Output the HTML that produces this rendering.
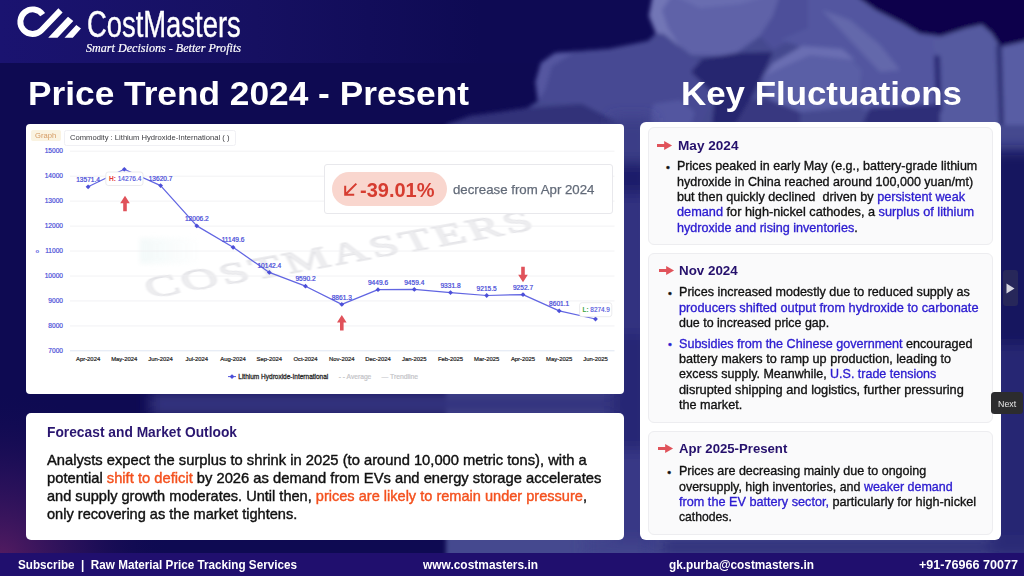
<!DOCTYPE html>
<html><head><meta charset="utf-8">
<style>
*{margin:0;padding:0;box-sizing:border-box}
html,body{width:1024px;height:576px;overflow:hidden}
body{background:#0f0a50;font-family:"Liberation Sans",sans-serif;position:relative}
.abs{position:absolute}
.t{position:absolute;white-space:nowrap;line-height:1}
#bg{position:absolute;left:0;top:0;width:1024px;height:576px}
.card{position:absolute;background:#fff}
.b{color:#2b1bd0}
.o{color:#f4511e}
.r{font-size:13.2px;color:#111;-webkit-text-stroke:0.35px currentColor}
.h{font-size:13.6px;font-weight:bold;color:#25106c}
.ft{font-size:12.8px;font-weight:bold;color:#fff;top:559.2px}
.f{font-size:14.6px;color:#111;-webkit-text-stroke:0.4px currentColor}
.ic{background:#fafafb;border:1px solid #ededf0;border-radius:6px}
</style></head><body>
<svg id="bg" viewBox="0 0 1024 576">
 <defs>
  <filter id="bl" x="-10%" y="-10%" width="120%" height="120%"><feGaussianBlur stdDeviation="2.2"/></filter>
  <filter id="bl2" x="-10%" y="-10%" width="120%" height="120%"><feGaussianBlur stdDeviation="7"/></filter>
  <linearGradient id="hb" x1="0" x2="1" y1="0" y2="0"><stop offset="0" stop-color="#1a1370"/><stop offset=".25" stop-color="#161061"/><stop offset=".47" stop-color="#0e0a53"/><stop offset="1" stop-color="#0e0a53"/></linearGradient>
  <radialGradient id="pg" cx="0" cy="560" r="170" gradientUnits="userSpaceOnUse"><stop offset="0" stop-color="#5a1d62" stop-opacity=".95"/><stop offset=".5" stop-color="#3a1560" stop-opacity=".5"/><stop offset="1" stop-color="#0f0a50" stop-opacity="0"/></radialGradient>
 </defs>
 <rect width="1024" height="576" fill="#0e0a52"/>
 <rect width="1024" height="63" fill="url(#hb)"/>
 <g filter="url(#bl)">
  <!-- general rock mass -->
  <path d="M446 125 L470 116 L500 112 L527 108 L538 101 L535.5 82 L541 63 L555 53 L609 49 L648 41 L656 33 L649 16 L653 -5 L855 -5 L876 10 L902 23 L920 33.5 L940 36 L966 28 L982 24.5 L992 33.5 L1000 46 L1030 40 L1030 576 L446 576Z" fill="#45488f"/>
  <!-- low left strip -->
  <path d="M446 125 L470 116 L500 112 L527 108 L582 104 L623 120 L623 125Z" fill="#303179"/>
  <!-- rock C -->
  <path d="M538 101 L535.5 82 L541 63 L555 53 L609 49 L648 41 L664 36 L691 57 L702 62 L691 73 L715 95 L700 125 L623 125 L582 104Z" fill="#474a93"/>
  <path d="M538 101 L535.5 82 L541 63 L555 53 L575 52 L552 66 L545 90Z" fill="#5457a0"/>
  <path d="M653 104 L680 100 L695 112 L691 125 L650 125Z" fill="#5356a0"/>
  <!-- rock A -->
  <path d="M653 -5 L649 16 L656 33 L664 34 L691 55 L732 56 L760 36 L773 16 L780 -5Z" fill="#5e62a8"/>
  <path d="M653 -5 L649 16 L656 33 L664 34 L680 47 L668 28 L662 10 L672 -5Z" fill="#7276b6"/>
  <path d="M672 -5 L700 8 L740 4 L770 -5Z" fill="#696db0"/>
  <!-- between A and B -->
  <path d="M773 16 L780 -5 L812 -5 L808 30 L773 50 L760 36Z" fill="#4d509a"/>
  <!-- rock B -->
  <path d="M808 -5 L855 -5 L876 10 L902 23 L920 33.5 L940 36 L936 60 L940 110 L862 110 L862 70 L842 50 L802 47 L780 40 L808 28Z" fill="#5356a0"/>
  <path d="M822 10 L850 20 L880 45 L900 70 L880 72 L850 40Z" fill="#6367ab"/>
  <!-- right rocks -->
  <path d="M932 40 L966 28 L982 24.5 L992 33.5 L1000 46 L1002 125 L940 125 L940 80Z" fill="#555aa0"/>
  <path d="M934 55 L940 56 L942 112 L936 112Z" fill="#2b2b76"/>
  <path d="M1001 48 L1030 40 L1030 125 L1003 125Z" fill="#595da4"/>
  <path d="M996 44 L1002 47 L1004 125 L999 125Z" fill="#2f3076"/>
  <!-- rock D -->
  <path d="M762 78 L773 64 L802 47 L842 50 L862 70 L860 106 L800 112 L770 100Z" fill="#5a5ea6"/>
  <path d="M764 76 L773 63 L802 46 L842 49 L855 60 L810 55 L785 66Z" fill="#6a6eb2"/>
  <!-- dark gaps -->
  <path d="M702 59 L737 53 L773 52 L762 76.5 L750 100 L735 125 L712 125 L715 95 L691 72Z" fill="#27266f"/>
  <path d="M870 108 L940 104 L940 125 L862 125Z" fill="#2d2d78"/>
  <path d="M750 100 L770 100 L800 112 L800 125 L735 125Z" fill="#373880"/>
  <path d="M855 -5 L876 10 L902 23 L920 33.5 L940 36 L966 28 L982 24.5 L992 33.5 L1000 46 L1030 40 L1030 -5Z" fill="#09054b"/>
 </g>
 <g filter="url(#bl2)">
  <rect x="990" y="150" width="50" height="195" fill="#17155f"/>
  <rect x="990" y="345" width="50" height="215" fill="#262673"/>
  <rect x="150" y="392" width="480" height="24" fill="#34357f"/>
  <rect x="612" y="118" width="40" height="44" fill="#3b3c87"/><rect x="612" y="162" width="40" height="32" fill="#1f1e6a"/><rect x="612" y="194" width="40" height="140" fill="#323380"/><rect x="612" y="334" width="40" height="116" fill="#282875"/><rect x="612" y="450" width="40" height="104" fill="#383986"/>
  <rect x="585" y="538" width="60" height="16" fill="#41438b"/><rect x="660" y="540" width="370" height="14" fill="#2d2d78"/>
  
 </g>
 <rect x="0" y="380" width="200" height="196" fill="url(#pg)"/>
</svg>

<!-- footer -->
<div class="abs" style="left:0;top:553.4px;width:1024px;height:23px;background:#200f6e"></div>
<div class="t ft" style="transform:scaleX(0.9142);transform-origin:0 0;left:18.3px">Subscribe &nbsp;|&nbsp; Raw Material Price Tracking Services</div>
<div class="t ft" style="transform:scaleX(0.9328);transform-origin:0 0;left:423.2px">www.costmasters.in</div>
<div class="t ft" style="transform:scaleX(0.9245);transform-origin:0 0;left:669.3px">gk.purba@costmasters.in</div>
<div class="t ft" style="transform:scaleX(0.9831);transform-origin:0 0;left:919.2px">+91-76966 70077</div>

<!-- logo -->
<svg class="abs" style="left:0;top:0" width="100" height="50" viewBox="0 0 100 50">
 <path d="M42.7 14.6 A12.3 12.3 0 1 0 41.5 30.2 L60.5 10.4" fill="none" stroke="#fff" stroke-width="5.9" stroke-linejoin="round"/>
 <path d="M48.2 37.8 L57.5 37.8 L73.3 21.1 L68 16.7Z M64.5 37.8 L72.8 37.8 L81 28.6 L76.3 25Z" fill="#fff"/>
</svg>
<div class="t" style="transform:scaleX(0.7503);transform-origin:0 0;left:86.6px;top:6.6px;font-size:36.5px;color:#fff;-webkit-text-stroke:.4px #fff">CostMasters</div>
<div class="t" style="transform:scaleX(0.9776);transform-origin:0 0;left:85.8px;top:41.6px;font-size:12.4px;color:#fff;-webkit-text-stroke:.2px #fff;font-family:'Liberation Serif',serif;font-style:italic">Smart Decisions - Better Profits</div>

<!-- titles -->
<div class="t" style="transform:scaleX(1.0371);transform-origin:0 0;left:27.6px;top:76.2px;font-size:34px;font-weight:bold;color:#fff">Price Trend 2024 - Present</div>
<div class="t" style="transform:scaleX(1.0258);transform-origin:0 0;left:680.6px;top:75.7px;font-size:34px;font-weight:bold;color:#fff">Key Fluctuations</div>

<!-- chart card -->
<div class="card" id="chart" style="left:26px;top:124px;width:598px;height:270px;border-radius:4px"></div>
<div class="abs" style="left:30.5px;top:130px;width:30px;height:10.7px;background:#faf3e1;border-radius:2px"></div><div class="t" style="transform:scaleX(1.0608);transform-origin:0 0;left:35.1px;top:131.6px;font-size:7.2px;color:#d59b63">Graph</div>
<div class="abs" style="left:64px;top:130px;width:171.5px;height:15.5px;background:#fff;border:1px solid #f0f0f4;border-radius:2.5px"></div><div class="t" style="transform:scaleX(1.0591);transform-origin:0 0;left:70px;top:134.2px;font-size:7.2px;color:#3c3c40">Commodity : Lithium Hydroxide-International ( )</div>
<svg class="abs" style="left:0;top:0" width="1024" height="576" viewBox="0 0 1024 576" font-family="Liberation Sans, sans-serif">
<defs><linearGradient id="bg1" x1="0" x2="1"><stop offset="0" stop-color="#eef7f7"/><stop offset="1" stop-color="#eef7f7" stop-opacity="0"/></linearGradient><filter id="wb" x="-30%" y="-60%" width="160%" height="220%"><feGaussianBlur stdDeviation="2.5"/></filter><filter id="wb2"><feGaussianBlur stdDeviation="0.6"/></filter></defs>
<rect x="140" y="238" width="62" height="26" fill="url(#bg1)" filter="url(#wb)" opacity=".7"/>
<g transform="translate(338 254) scale(1.7 1) rotate(-17)" filter="url(#wb2)"><text x="0" y="10" text-anchor="middle" textLength="237" lengthAdjust="spacing" font-family="Liberation Serif, serif" font-size="30" fill="#efeff1" stroke="#e1e1e5" stroke-width="0.7">COSTMASTERS</text></g>
<line x1="70" x2="614.5" y1="350.8" y2="350.8" stroke="#dfe6f2" stroke-width="1"/>
<text x="63" y="352.6" text-anchor="end" font-size="6.6" fill="#484cd8" stroke="#484cd8" stroke-width="0.18">7000</text>
<line x1="70" x2="614.5" y1="325.9" y2="325.9" stroke="#efeff1" stroke-width="0.8"/>
<text x="63" y="327.7" text-anchor="end" font-size="6.6" fill="#484cd8" stroke="#484cd8" stroke-width="0.18">8000</text>
<line x1="70" x2="614.5" y1="300.9" y2="300.9" stroke="#efeff1" stroke-width="0.8"/>
<text x="63" y="302.7" text-anchor="end" font-size="6.6" fill="#484cd8" stroke="#484cd8" stroke-width="0.18">9000</text>
<line x1="70" x2="614.5" y1="276.0" y2="276.0" stroke="#efeff1" stroke-width="0.8"/>
<text x="63" y="277.8" text-anchor="end" font-size="6.6" fill="#484cd8" stroke="#484cd8" stroke-width="0.18">10000</text>
<line x1="70" x2="614.5" y1="251.0" y2="251.0" stroke="#efeff1" stroke-width="0.8"/>
<text x="63" y="252.8" text-anchor="end" font-size="6.6" fill="#484cd8" stroke="#484cd8" stroke-width="0.18">11000</text>
<line x1="70" x2="614.5" y1="226.1" y2="226.1" stroke="#efeff1" stroke-width="0.8"/>
<text x="63" y="227.9" text-anchor="end" font-size="6.6" fill="#484cd8" stroke="#484cd8" stroke-width="0.18">12000</text>
<line x1="70" x2="614.5" y1="201.1" y2="201.1" stroke="#efeff1" stroke-width="0.8"/>
<text x="63" y="202.9" text-anchor="end" font-size="6.6" fill="#484cd8" stroke="#484cd8" stroke-width="0.18">13000</text>
<line x1="70" x2="614.5" y1="176.2" y2="176.2" stroke="#efeff1" stroke-width="0.8"/>
<text x="63" y="178.0" text-anchor="end" font-size="6.6" fill="#484cd8" stroke="#484cd8" stroke-width="0.18">14000</text>
<line x1="70" x2="614.5" y1="151.2" y2="151.2" stroke="#efeff1" stroke-width="0.8"/>
<text x="63" y="153.0" text-anchor="end" font-size="6.6" fill="#484cd8" stroke="#484cd8" stroke-width="0.18">15000</text>
<text x="37.4" y="252.6" font-size="6" font-weight="bold" fill="#5a5ee0" text-anchor="middle">o</text>
<polyline points="88.1,186.8 124.3,169.3 160.6,185.6 196.8,225.9 233.1,247.3 269.3,272.4 305.5,286.2 341.8,304.4 378.0,289.7 414.3,289.4 450.5,292.6 486.7,295.5 523.0,294.6 559.2,310.9 595.5,319.0" fill="none" stroke="#6165e2" stroke-width="1.25" stroke-linejoin="round"/>
<path d="M88.1 184.4 L90.5 186.8 L88.1 189.2 L85.7 186.8Z" fill="#4c4fd8"/>
<text x="88.1" y="181.9" text-anchor="middle" font-size="6.6" fill="#474bd8" stroke="#474bd8" stroke-width="0.22">13571.4</text>
<path d="M124.3 166.9 L126.7 169.3 L124.3 171.7 L121.9 169.3Z" fill="#4c4fd8"/>
<path d="M160.6 183.2 L163.0 185.6 L160.6 188.0 L158.2 185.6Z" fill="#4c4fd8"/>
<text x="160.6" y="180.7" text-anchor="middle" font-size="6.6" fill="#474bd8" stroke="#474bd8" stroke-width="0.22">13620.7</text>
<path d="M196.8 223.5 L199.2 225.9 L196.8 228.3 L194.4 225.9Z" fill="#4c4fd8"/>
<text x="196.8" y="221.0" text-anchor="middle" font-size="6.6" fill="#474bd8" stroke="#474bd8" stroke-width="0.22">12006.2</text>
<path d="M233.1 244.9 L235.5 247.3 L233.1 249.7 L230.7 247.3Z" fill="#4c4fd8"/>
<text x="233.1" y="242.4" text-anchor="middle" font-size="6.6" fill="#474bd8" stroke="#474bd8" stroke-width="0.22">11149.6</text>
<path d="M269.3 270.0 L271.7 272.4 L269.3 274.8 L266.9 272.4Z" fill="#4c4fd8"/>
<text x="269.3" y="267.5" text-anchor="middle" font-size="6.6" fill="#474bd8" stroke="#474bd8" stroke-width="0.22">10142.4</text>
<path d="M305.5 283.8 L307.9 286.2 L305.5 288.6 L303.1 286.2Z" fill="#4c4fd8"/>
<text x="305.5" y="281.3" text-anchor="middle" font-size="6.6" fill="#474bd8" stroke="#474bd8" stroke-width="0.22">9590.2</text>
<path d="M341.8 302.0 L344.2 304.4 L341.8 306.8 L339.4 304.4Z" fill="#4c4fd8"/>
<text x="341.8" y="299.5" text-anchor="middle" font-size="6.6" fill="#474bd8" stroke="#474bd8" stroke-width="0.22">8861.3</text>
<path d="M378.0 287.3 L380.4 289.7 L378.0 292.1 L375.6 289.7Z" fill="#4c4fd8"/>
<text x="378.0" y="284.8" text-anchor="middle" font-size="6.6" fill="#474bd8" stroke="#474bd8" stroke-width="0.22">9449.6</text>
<path d="M414.3 287.0 L416.7 289.4 L414.3 291.8 L411.9 289.4Z" fill="#4c4fd8"/>
<text x="414.3" y="284.5" text-anchor="middle" font-size="6.6" fill="#474bd8" stroke="#474bd8" stroke-width="0.22">9459.4</text>
<path d="M450.5 290.2 L452.9 292.6 L450.5 295.0 L448.1 292.6Z" fill="#4c4fd8"/>
<text x="450.5" y="287.7" text-anchor="middle" font-size="6.6" fill="#474bd8" stroke="#474bd8" stroke-width="0.22">9331.8</text>
<path d="M486.7 293.1 L489.1 295.5 L486.7 297.9 L484.3 295.5Z" fill="#4c4fd8"/>
<text x="486.7" y="290.6" text-anchor="middle" font-size="6.6" fill="#474bd8" stroke="#474bd8" stroke-width="0.22">9215.5</text>
<path d="M523.0 292.2 L525.4 294.6 L523.0 297.0 L520.6 294.6Z" fill="#4c4fd8"/>
<text x="523.0" y="289.7" text-anchor="middle" font-size="6.6" fill="#474bd8" stroke="#474bd8" stroke-width="0.22">9252.7</text>
<path d="M559.2 308.5 L561.6 310.9 L559.2 313.3 L556.8 310.9Z" fill="#4c4fd8"/>
<text x="559.2" y="306.0" text-anchor="middle" font-size="6.6" fill="#474bd8" stroke="#474bd8" stroke-width="0.22">8601.1</text>
<path d="M595.5 316.6 L597.9 319.0 L595.5 321.4 L593.1 319.0Z" fill="#4c4fd8"/>
<text x="88.1" y="361.1" text-anchor="middle" font-size="5.9" fill="#222" stroke="#222" stroke-width="0.2">Apr-2024</text>
<text x="124.3" y="361.1" text-anchor="middle" font-size="5.9" fill="#222" stroke="#222" stroke-width="0.2">May-2024</text>
<text x="160.6" y="361.1" text-anchor="middle" font-size="5.9" fill="#222" stroke="#222" stroke-width="0.2">Jun-2024</text>
<text x="196.8" y="361.1" text-anchor="middle" font-size="5.9" fill="#222" stroke="#222" stroke-width="0.2">Jul-2024</text>
<text x="233.1" y="361.1" text-anchor="middle" font-size="5.9" fill="#222" stroke="#222" stroke-width="0.2">Aug-2024</text>
<text x="269.3" y="361.1" text-anchor="middle" font-size="5.9" fill="#222" stroke="#222" stroke-width="0.2">Sep-2024</text>
<text x="305.5" y="361.1" text-anchor="middle" font-size="5.9" fill="#222" stroke="#222" stroke-width="0.2">Oct-2024</text>
<text x="341.8" y="361.1" text-anchor="middle" font-size="5.9" fill="#222" stroke="#222" stroke-width="0.2">Nov-2024</text>
<text x="378.0" y="361.1" text-anchor="middle" font-size="5.9" fill="#222" stroke="#222" stroke-width="0.2">Dec-2024</text>
<text x="414.3" y="361.1" text-anchor="middle" font-size="5.9" fill="#222" stroke="#222" stroke-width="0.2">Jan-2025</text>
<text x="450.5" y="361.1" text-anchor="middle" font-size="5.9" fill="#222" stroke="#222" stroke-width="0.2">Feb-2025</text>
<text x="486.7" y="361.1" text-anchor="middle" font-size="5.9" fill="#222" stroke="#222" stroke-width="0.2">Mar-2025</text>
<text x="523.0" y="361.1" text-anchor="middle" font-size="5.9" fill="#222" stroke="#222" stroke-width="0.2">Apr-2025</text>
<text x="559.2" y="361.1" text-anchor="middle" font-size="5.9" fill="#222" stroke="#222" stroke-width="0.2">May-2025</text>
<text x="595.5" y="361.1" text-anchor="middle" font-size="5.9" fill="#222" stroke="#222" stroke-width="0.2">Jun-2025</text>
<rect x="105.8" y="172" width="37.2" height="13.5" rx="2.5" fill="#fff" stroke="#e3e3e6" stroke-width="0.7"/>
<text x="108.9" y="181.3" font-size="6.6" fill="#5054dc" stroke="#5054dc" stroke-width="0.15"><tspan fill="#e53935" stroke="none" font-weight="bold">H:</tspan> 14276.4</text>
<rect x="579.6" y="302.7" width="32.2" height="14" rx="2.5" fill="#fff" stroke="#e3e3e6" stroke-width="0.7"/>
<text x="582.5" y="311.8" font-size="6.4" fill="#5054dc" stroke="#5054dc" stroke-width="0.15"><tspan fill="#3aa53a" stroke="none" font-weight="bold">L:</tspan> 8274.9</text>
<path d="M125 195.7 L129.8 203.188 L126.8 203.188 L126.8 211.29999999999998 L123.2 211.29999999999998 L123.2 203.188 L120.2 203.188Z" fill="#e0525a"/>
<path d="M341.8 315 L346.6 322.488 L343.6 322.488 L343.6 330.6 L340.0 330.6 L340.0 322.488 L337.0 322.488Z" fill="#e0525a"/>
<path d="M523 282.3 L527.8 274.812 L524.8 274.812 L524.8 266.7 L521.2 266.7 L521.2 274.812 L518.2 274.812Z" fill="#e0525a"/>
<line x1="228" x2="236" y1="376.6" y2="376.6" stroke="#5558dd" stroke-width="1"/>
<path d="M232 374.2 L234.4 376.6 L232 379 L229.6 376.6Z" fill="#4c4fd8"/>
<text x="238.3" y="378.9" font-size="7" fill="#2a2a2a" stroke="#2a2a2a" stroke-width="0.3" textLength="90" lengthAdjust="spacingAndGlyphs">Lithium Hydroxide-International</text>
<text x="338.8" y="378.9" font-size="6.8" fill="#c4c4c8" stroke="#c4c4c8" stroke-width="0.2" textLength="32.5" lengthAdjust="spacingAndGlyphs">- - Average</text>
<text x="381.5" y="378.9" font-size="6.8" fill="#c4c4c8" stroke="#c4c4c8" stroke-width="0.2" textLength="36.5" lengthAdjust="spacingAndGlyphs">— Trendline</text>
</svg>
<!-- pct box -->
<div class="abs" style="left:324.3px;top:164.3px;width:288.3px;height:49.4px;background:#fff;border:1px solid #e8e8ec;border-radius:3px"></div>
<div class="abs" style="left:332px;top:172px;width:114.5px;height:34px;background:#f9d6ce;border-radius:17px"></div>
<svg class="abs" style="left:341.6px;top:181.4px" width="17" height="17" viewBox="0 0 16 16"><path d="M13.5 2.5 L3 13 M3 4.5 L3 13 L11.5 13" fill="none" stroke="#d63c30" stroke-width="1.9"/></svg>
<div class="t" style="transform:scaleX(0.9907);transform-origin:0 0;left:360.2px;top:179.7px;font-size:20.2px;font-weight:bold;color:#d63c30">-39.01%</div>
<div class="t" style="transform:scaleX(1.0053);transform-origin:0 0;left:453.3px;top:183.2px;font-size:13.2px;color:#636b79;-webkit-text-stroke:.25px #636b79">decrease from Apr 2024</div>

<!-- forecast card -->
<div class="card" style="left:26px;top:413px;width:598px;height:127px;border-radius:5px"></div>
<div class="t" style="transform:scaleX(0.9580);transform-origin:0 0;left:46.9px;top:425.1px;font-size:14.4px;font-weight:bold;color:#2a1670">Forecast and Market Outlook</div>
<div class="t f" style="transform:scaleX(1.0096);transform-origin:0 0;left:47.3px;top:453.3px">Analysts expect the surplus to shrink in 2025 (to around 10,000 metric tons), with a</div>
<div class="t f" style="transform:scaleX(1.0093);transform-origin:0 0;left:47.3px;top:471.3px">potential <span class="o">shift to deficit</span> by 2026 as demand from EVs and energy storage accelerates</div>
<div class="t f" style="transform:scaleX(0.9980);transform-origin:0 0;left:47.3px;top:489.3px">and supply growth moderates. Until then, <span class="o">prices are likely to remain under pressure</span>,</div>
<div class="t f" style="transform:scaleX(0.9986);transform-origin:0 0;left:47.3px;top:507.3px">only recovering as the market tightens.</div>

<!-- right panel -->
<div class="card" style="left:639.6px;top:121.5px;width:361px;height:418px;border-radius:6px"></div>
<div class="card ic" style="left:647.9px;top:127.3px;width:344.8px;height:117.3px"></div>
<div class="card ic" style="left:647.9px;top:252.7px;width:344.8px;height:170px"></div>
<div class="card ic" style="left:647.9px;top:431.3px;width:344.8px;height:103.7px"></div>

<svg class="abs" style="left:656.5px;top:140px" width="16" height="11" viewBox="0 0 17 11"><path d="M0 3.8 L7.6 3.8 L7.6 0.6 L16 5.5 L7.6 10.4 L7.6 7.2 L0 7.2Z" fill="#e0525a"/></svg>
<div class="t h" style="transform:scaleX(1.0005);transform-origin:0 0;left:677.7px;top:138.8px">May 2024</div>
<div class="t r" style="left:665.9px;top:160.6px;font-size:11px;line-height:13.2px">•</div>
<div class="t r" style="transform:scaleX(0.9506);transform-origin:0 0;left:677.3px;top:159.1px">Prices peaked in early May (e.g., battery-grade lithium</div>
<div class="t r" style="transform:scaleX(0.9503);transform-origin:0 0;left:677.3px;top:174.5px">hydroxide in China reached around 100,000 yuan/mt)</div>
<div class="t r" style="transform:scaleX(0.9582);transform-origin:0 0;left:677.3px;top:189.9px">but then quickly declined &nbsp;driven by <span class="b">persistent weak</span></div>
<div class="t r" style="transform:scaleX(0.9649);transform-origin:0 0;left:677.3px;top:205.3px"><span class="b">demand</span> for high-nickel cathodes, a <span class="b">surplus of lithium</span></div>
<div class="t r" style="transform:scaleX(0.9554);transform-origin:0 0;left:677.3px;top:220.7px"><span class="b">hydroxide and rising inventories</span>.</div>

<svg class="abs" style="left:658.7px;top:264.7px" width="16" height="11" viewBox="0 0 17 11"><path d="M0 3.8 L7.6 3.8 L7.6 0.6 L16 5.5 L7.6 10.4 L7.6 7.2 L0 7.2Z" fill="#e0525a"/></svg>
<div class="t h" style="transform:scaleX(0.9832);transform-origin:0 0;left:679.3px;top:263.8px">Nov 2024</div>
<div class="t r" style="left:668.0px;top:286.9px;font-size:11px;line-height:13.2px">•</div>
<div class="t r" style="transform:scaleX(0.9533);transform-origin:0 0;left:679.2px;top:285.4px">Prices increased modestly due to reduced supply as</div>
<div class="t r" style="transform:scaleX(0.9681);transform-origin:0 0;left:679.2px;top:300.7px"><span class="b">producers shifted output from hydroxide to carbonate</span></div>
<div class="t r" style="transform:scaleX(0.9435);transform-origin:0 0;left:679.2px;top:316.0px">due to increased price gap.</div>
<div class="t r" style="left:668.0px;top:338.1px;font-size:11px;line-height:13.2px;color:#2b1bd0">•</div>
<div class="t r" style="transform:scaleX(0.9532);transform-origin:0 0;left:679.2px;top:336.6px"><span class="b">Subsidies from the Chinese government</span> encouraged</div>
<div class="t r" style="transform:scaleX(0.9592);transform-origin:0 0;left:679.2px;top:351.9px">battery makers to ramp up production, leading to</div>
<div class="t r" style="transform:scaleX(0.9470);transform-origin:0 0;left:679.2px;top:367.3px">excess supply. Meanwhile, <span class="b">U.S. trade tensions</span></div>
<div class="t r" style="transform:scaleX(0.9689);transform-origin:0 0;left:679.2px;top:382.6px">disrupted shipping and logistics, further pressuring</div>
<div class="t r" style="transform:scaleX(0.9580);transform-origin:0 0;left:679.2px;top:398.0px">the market.</div>

<svg class="abs" style="left:657.7px;top:442.9px" width="16" height="11" viewBox="0 0 17 11"><path d="M0 3.8 L7.6 3.8 L7.6 0.6 L16 5.5 L7.6 10.4 L7.6 7.2 L0 7.2Z" fill="#e0525a"/></svg>
<div class="t h" style="transform:scaleX(0.9685);transform-origin:0 0;left:678.6px;top:442.1px">Apr 2025-Present</div>
<div class="t r" style="left:667.3px;top:465.6px;font-size:11px;line-height:13.2px">•</div>
<div class="t r" style="transform:scaleX(0.9502);transform-origin:0 0;left:678.5px;top:464.1px">Prices are decreasing mainly due to ongoing</div>
<div class="t r" style="transform:scaleX(0.9459);transform-origin:0 0;left:678.5px;top:479.6px">oversupply, high inventories, and <span class="b">weaker demand</span></div>
<div class="t r" style="transform:scaleX(0.9608);transform-origin:0 0;left:678.5px;top:494.9px"><span class="b">from the EV battery sector,</span> particularly for high-nickel</div>
<div class="t r" style="transform:scaleX(0.9233);transform-origin:0 0;left:678.5px;top:510.4px">cathodes.</div>

<!-- overlay controls -->
<div class="abs" style="left:1003px;top:270px;width:15px;height:36px;background:#27275a;border-radius:3px"></div>
<svg class="abs" style="left:1006px;top:282.5px" width="9" height="11" viewBox="0 0 9 11"><path d="M0.5 0.5 L8.5 5.5 L0.5 10.5Z" fill="#d5d5df"/></svg>
<div class="abs" style="left:991px;top:392.3px;width:31.8px;height:22.1px;background:#2c2c2e;border-radius:3.5px"></div>
<div class="t" style="transform:scaleX(0.9222);transform-origin:0 0;left:998px;top:398.6px;font-size:9.6px;color:#e8e8e8">Next</div>

</body></html>
